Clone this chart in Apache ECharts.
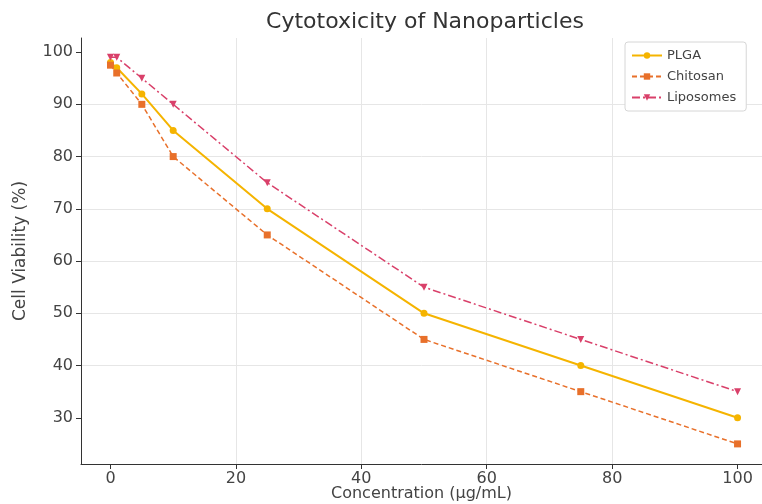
<!DOCTYPE html>
<html><head><meta charset="utf-8">
<script src="https://cdn.jsdelivr.net/npm/echarts@6/dist/echarts.min.js"></script>
<style>html,body{margin:0;padding:0;background:#fff}#c{width:762px;height:504px}</style>
</head><body><div id="c"></div>
<script>
const concentrations = [0, 1, 5, 10, 25, 50, 75, 100];
const plga = [98, 97, 92, 85, 70, 50, 40, 30];
const chitosan = [97.5, 96, 90, 80, 65, 45, 35, 25];
const liposomes = [99, 99, 95, 90, 75, 55, 45, 35];
const xTicks = [0, 20, 40, 60, 80, 100];
const yTicks = [30, 40, 50, 60, 70, 80, 90, 100];
const seriesNames = ['PLGA', 'Chitosan', 'Liposomes'];

const pair = v => concentrations.map((c, i) => [c, v[i]]);
const font = 'DejaVu Sans';
const chart = echarts.init(document.getElementById('c'));
chart.setOption({
  animation: false,
  backgroundColor: '#fff',
  title: { text: 'Cytotoxicity of Nanoparticles', left: 420, top: 6, textAlign: 'center',
    textStyle: { fontFamily: font, fontSize: 22, fontWeight: 'normal', color: '#333' } },
  legend: {
    data: seriesNames, orient: 'vertical', left: 625, top: 42,
    backgroundColor: '#fff', borderColor: '#d6d6d6', borderWidth: 1, borderRadius: 3,
    padding: [7, 10, 7, 6], itemGap: 8, itemWidth: 30, itemHeight: 8,
    textStyle: { fontFamily: font, fontSize: 13, color: '#444' }
  },
  grid: { left: 81, top: 38, right: 0, height: 426, containLabel: false, outerBoundsMode: 'none' },
  xAxis: {
    type: 'value', min: -4.7, max: 103.9, splitNumber: 5,
    name: 'Concentration (μg/mL)', nameLocation: 'middle', nameGap: 22, nameMoveOverlap: false,
    nameTextStyle: { fontFamily: font, fontSize: 16, color: '#444' },
    axisLine: { show: true, onZero: false, lineStyle: { color: '#333', width: 1 } },
    axisTick: { show: true, length: 5, customValues: xTicks, lineStyle: { color: '#333' } },
    axisLabel: { customValues: xTicks, fontFamily: font, fontSize: 16, color: '#444', margin: 7 },
    splitLine: { show: true, showMinLine: false, showMaxLine: false, lineStyle: { color: '#e6e6e6', width: 1 } }
  },
  yAxis: {
    type: 'value', min: 21.15, max: 102.7, splitNumber: 8,
    name: 'Cell Viability (%)', nameLocation: 'middle', nameGap: 52,
    nameTextStyle: { fontFamily: font, fontSize: 17, color: '#444' },
    axisLine: { show: true, onZero: false, lineStyle: { color: '#333', width: 1 } },
    axisTick: { show: true, length: 5, customValues: yTicks, lineStyle: { color: '#333' } },
    axisLabel: { customValues: yTicks, fontFamily: font, fontSize: 16, color: '#444', margin: 8 },
    splitLine: { show: true, showMinLine: false, showMaxLine: false, lineStyle: { color: '#e6e6e6', width: 1 } }
  },
  series: [
    { name: 'PLGA', type: 'line', data: pair(plga), symbol: 'circle', symbolSize: 7,
      itemStyle: { color: '#f5b400' }, lineStyle: { width: 2, color: '#f5b400' } },
    { name: 'Chitosan', type: 'line', data: pair(chitosan), symbol: 'rect', symbolSize: 7,
      itemStyle: { color: '#e8702a' }, lineStyle: { width: 1.5, type: [5, 3], color: '#e8702a' } },
    { name: 'Liposomes', type: 'line', data: pair(liposomes), symbol: 'triangle', symbolRotate: 180, symbolSize: 7,
      itemStyle: { color: '#d9406a' }, lineStyle: { width: 1.5, type: [8, 3, 2, 3], color: '#d9406a' } }
  ]
});
</script></body></html>
